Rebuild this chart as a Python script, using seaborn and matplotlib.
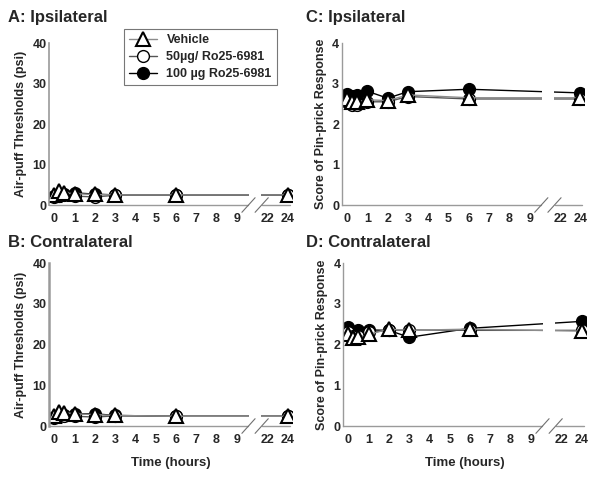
import matplotlib
matplotlib.use("Agg")
import matplotlib.pyplot as plt
import seaborn as sns
import numpy as np

sns.set_style("white")
plt.rcParams['font.family'] = ['Liberation Sans', 'DejaVu Sans']
plt.rcParams['font.weight'] = 'bold'

# ---- data ----
times = [0, 0.25, 0.5, 1, 2, 3, 6, 24]
tick_hours = [0, 1, 2, 3, 4, 5, 6, 7, 8, 9, 22, 24]

A_vehicle = [2.5, 3.5, 3.0, 2.8, 2.6, 2.5, 2.5, 2.5]
A_50 = [2.0, 2.3, 2.5, 2.2, 2.0, 2.4, 2.4, 2.4]
A_100 = [2.3, 2.5, 2.6, 3.0, 2.7, 2.5, 2.5, 2.5]

B_vehicle = [2.5, 3.5, 3.3, 3.0, 2.8, 2.6, 2.4, 2.4]
B_50 = [2.0, 2.5, 2.5, 2.4, 2.2, 2.5, 2.4, 2.4]
B_100 = [2.2, 2.4, 2.6, 3.0, 3.0, 2.6, 2.4, 2.4]

C_vehicle = [2.62, 2.55, 2.55, 2.60, 2.58, 2.72, 2.65, 2.65]
C_50 = [2.55, 2.48, 2.48, 2.55, 2.55, 2.68, 2.62, 2.62]
C_100 = [2.74, 2.70, 2.72, 2.81, 2.64, 2.80, 2.86, 2.77]

D_vehicle = [2.25, 2.15, 2.18, 2.25, 2.38, 2.35, 2.38, 2.33]
D_50 = [2.30, 2.22, 2.22, 2.30, 2.35, 2.36, 2.35, 2.35]
D_100 = [2.43, 2.30, 2.36, 2.36, 2.35, 2.18, 2.40, 2.57]

series_labels = ["Vehicle", "50\u00b5g/ Ro25-6981", "100 \u00b5g Ro25-6981"]


def brk(t):
    # broken time axis: 0-9 h linear, 22-24 h compressed after the break
    return t if t <= 9 else 10.5 + (t - 22) / 2.0


pos = [brk(t) for t in times]
tick_pos = [brk(t) for t in tick_hours]

fig = plt.figure(figsize=(6.0, 4.79), dpi=100)

panels = [
    ("A: Ipsilateral", [0.082, 0.572, 0.404, 0.338], A_vehicle, A_50, A_100, 40, [0, 10, 20, 30, 40],
     "Air-puff Thresholds (psi)", False, (8, 22), 1.2),
    ("B: Contralateral", [0.082, 0.1106, 0.404, 0.340], B_vehicle, B_50, B_100, 40, [0, 10, 20, 30, 40],
     "Air-puff Thresholds (psi)", True, (8, 247), 1.8),
    ("C: Ipsilateral", [0.570, 0.572, 0.404, 0.338], C_vehicle, C_50, C_100, 4, [0, 1, 2, 3, 4],
     "Score of Pin-prick Response", False, (306, 22), 1.0),
    ("D: Contralateral", [0.572, 0.1106, 0.404, 0.340], D_vehicle, D_50, D_100, 4, [0, 1, 2, 3, 4],
     "Score of Pin-prick Response", True, (306, 247), 1.0),
]

styles = {
    "100": dict(color="black", marker="o", markersize=8.5, markerfacecolor="black",
                markeredgecolor="black", markeredgewidth=1.0, linewidth=1.0),
    "50": dict(color="#555555", marker="o", markersize=8.5, markerfacecolor="white",
               markeredgecolor="black", markeredgewidth=1.0, linewidth=1.0),
    "veh": dict(color="#8c8c8c", marker="^", markersize=9.5, markerfacecolor="white",
                markeredgecolor="black", markeredgewidth=1.5, linewidth=1.0),
}

legend_handles = None
for title, rect, veh, d50, d100, ymax, yticks, ylab, show_xlabel, tpos, spw in panels:
    ax = fig.add_axes(rect)
    x_left = -0.25
    x_right = 11.7
    h100 = sns.lineplot(x=pos, y=d100, ax=ax, zorder=2, legend=False, **styles["100"]).lines[-1]
    h50 = sns.lineplot(x=pos, y=d50, ax=ax, zorder=2.1, legend=False, **styles["50"]).lines[-1]
    hv = sns.lineplot(x=pos, y=veh, ax=ax, zorder=2.2, legend=False, **styles["veh"]).lines[-1]
    if legend_handles is None:
        legend_handles = [hv, h50, h100]

    ax.set_xlim(x_left, x_right)
    ax.set_ylim(0, ymax)
    # gap in the lines at the axis break
    ax.axvspan(9.6, 10.2, ymin=0.015, ymax=1.0, color="white", zorder=3, lw=0)

    for s in ["top", "right", "bottom"]:
        ax.spines[s].set_visible(False)
    ax.spines["left"].set_color("#9a9a9a")
    ax.spines["left"].set_linewidth(spw)

    tr = ax.get_xaxis_transform()
    ax.plot([x_left, 9.55], [0, 0], transform=tr, color="#9a9a9a", lw=1.0, clip_on=False, zorder=1)
    ax.plot([10.25, 11.6], [0, 0], transform=tr, color="#9a9a9a", lw=1.0, clip_on=False, zorder=1)
    ax.plot([9.25, 9.9], [-0.045, 0.045], transform=tr, color="#707070", lw=0.8, clip_on=False, zorder=4)
    ax.plot([9.9, 10.55], [-0.045, 0.045], transform=tr, color="#707070", lw=0.8, clip_on=False, zorder=4)

    ax.set_xticks(tick_pos)
    ax.set_xticklabels([str(t) for t in tick_hours])
    ax.set_yticks(yticks)
    ax.set_yticklabels([str(t) for t in yticks])
    ax.tick_params(axis="both", direction="in", length=3, width=0.8, color="#9a9a9a",
                   labelsize=9, pad=2)
    ax.tick_params(axis="x", pad=6)
    for lbl in ax.get_xticklabels() + ax.get_yticklabels():
        lbl.set_fontweight("bold")

    ax.set_ylabel(ylab, fontsize=9, fontweight="bold", labelpad=4)
    if show_xlabel:
        ax.set_xlabel("Time (hours)", fontsize=9.5, fontweight="bold", labelpad=8)

    fig.text(tpos[0] / 600, 1 - tpos[1] / 479, title, fontsize=12, fontweight="bold",
             ha="left", va="baseline")

leg = fig.legend(legend_handles, series_labels, loc="upper left",
                 bbox_to_anchor=(124 / 600, 1 - 29 / 479), frameon=True, fancybox=False,
                 fontsize=9, handlelength=2.2, handletextpad=0.8, borderpad=0.4,
                 labelspacing=0.4, borderaxespad=0)
leg.get_frame().set_edgecolor("#555555")
leg.get_frame().set_linewidth(0.8)
for t in leg.get_texts():
    t.set_fontweight("bold")

fig.savefig("out.png", dpi=100)
